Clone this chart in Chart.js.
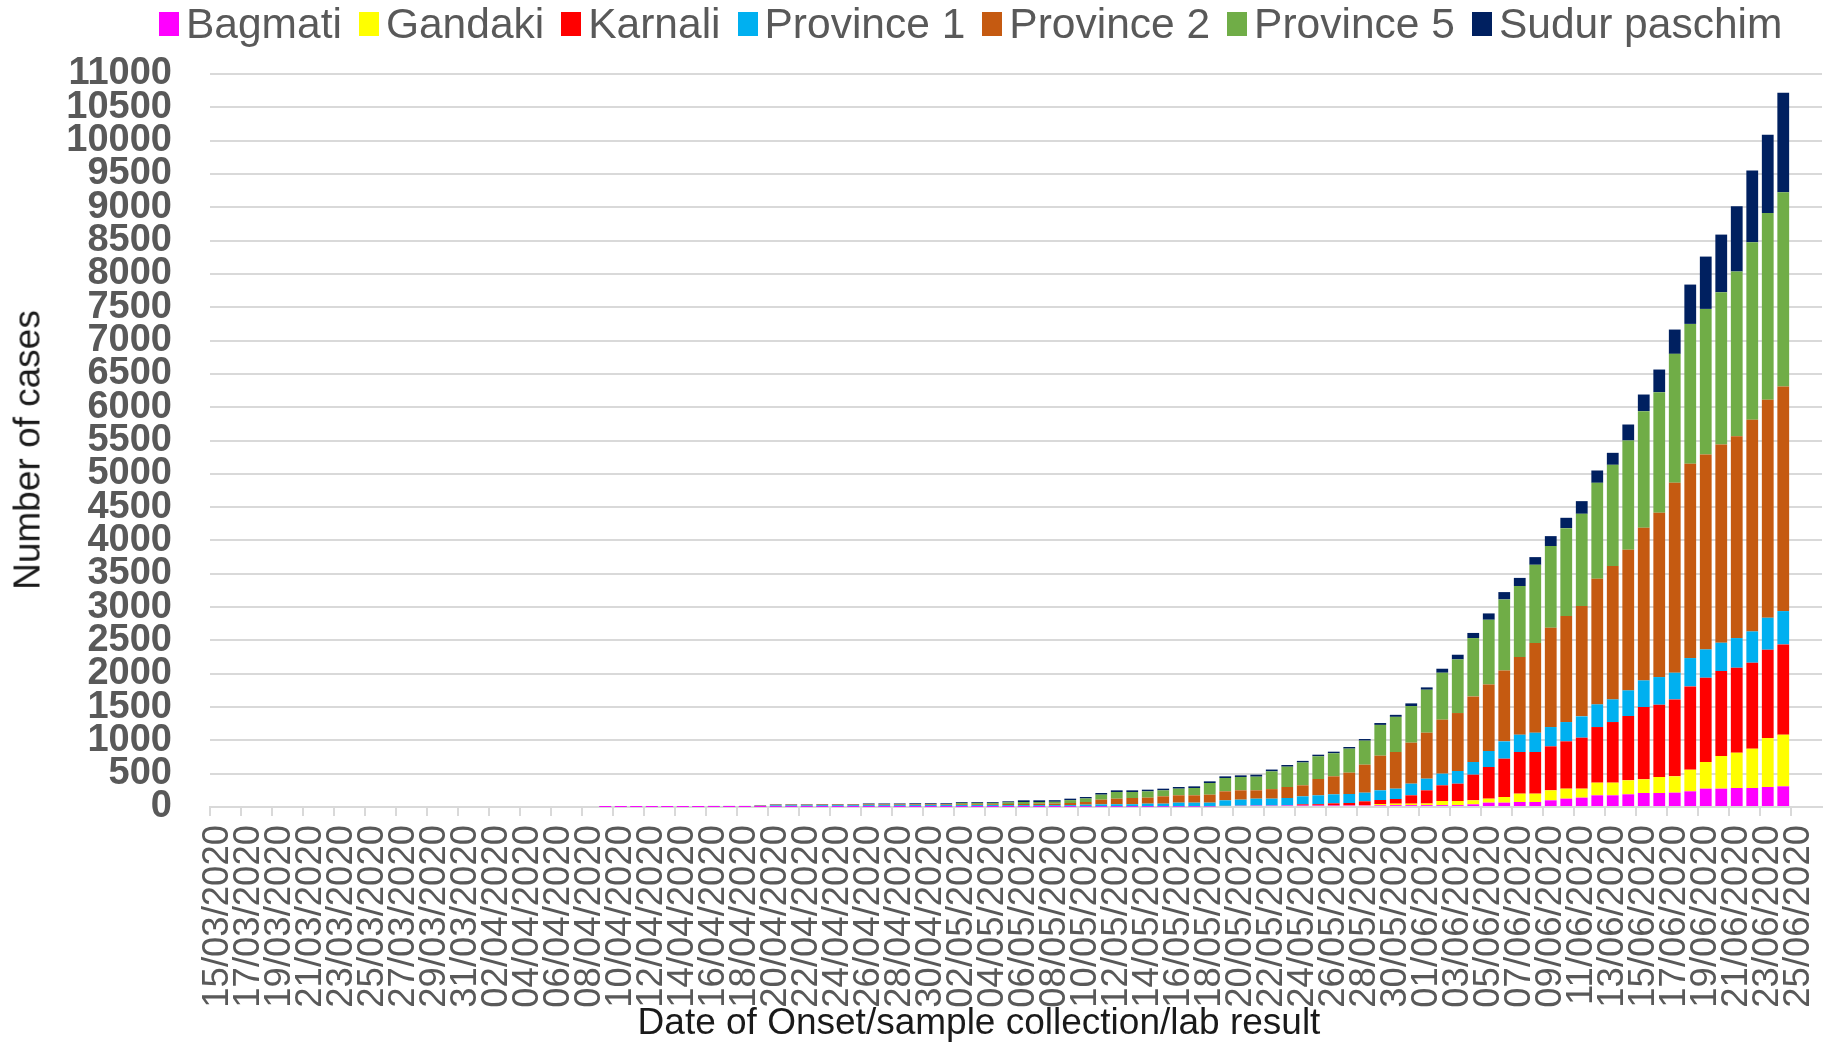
<!DOCTYPE html>
<html>
<head>
<meta charset="utf-8">
<title>Cases by province</title>
<script src="https://cdn.jsdelivr.net/npm/chart.js@4.4.1/dist/chart.umd.min.js"></script>
<style>
  body { margin: 0; background: #fff; }
  #wrap { position: relative; width: 1831px; height: 1042px; font-family: 'Liberation Sans', Arial, sans-serif; }
  #chart { position: absolute; top: 0; left: 0; display: block; }
  #legend { position: absolute; top: 3px; left: 159px; display: flex; font-size: 42.5px; line-height: 42px; color: #595959; white-space: nowrap; }
  #legend .item { display: flex; align-items: center; margin-right: 17px; }
  #legend .box { width: 20px; height: 24px; margin-right: 7px; }
  #xtitle { position: absolute; top: 1003px; left: 979px; transform: translateX(-50%); font-size: 37px; line-height: 37px; color: #1a1a1a; white-space: nowrap; }
  #ytitle { position: absolute; top: 450px; left: 27px; transform: translate(-50%, -50%) rotate(-90deg); font-size: 37px; line-height: 37px; color: #1a1a1a; white-space: nowrap; }
</style>
</head>
<body>
<div id="wrap">
  <canvas id="chart" width="1831" height="1042"></canvas>
  <div id="legend"></div>
  <div id="ytitle">Number of cases</div>
  <div id="xtitle">Date of Onset/sample collection/lab result</div>
</div>
<script>
// one category per day, labels shown every second day
const dates = [
  '15/03/2020','16/03/2020','17/03/2020','18/03/2020','19/03/2020','20/03/2020','21/03/2020','22/03/2020','23/03/2020','24/03/2020',
  '25/03/2020','26/03/2020','27/03/2020','28/03/2020','29/03/2020','30/03/2020','31/03/2020','01/04/2020','02/04/2020','03/04/2020',
  '04/04/2020','05/04/2020','06/04/2020','07/04/2020','08/04/2020','09/04/2020','10/04/2020','11/04/2020','12/04/2020','13/04/2020',
  '14/04/2020','15/04/2020','16/04/2020','17/04/2020','18/04/2020','19/04/2020','20/04/2020','21/04/2020','22/04/2020','23/04/2020',
  '24/04/2020','25/04/2020','26/04/2020','27/04/2020','28/04/2020','29/04/2020','30/04/2020','01/05/2020','02/05/2020','03/05/2020',
  '04/05/2020','05/05/2020','06/05/2020','07/05/2020','08/05/2020','09/05/2020','10/05/2020','11/05/2020','12/05/2020','13/05/2020',
  '14/05/2020','15/05/2020','16/05/2020','17/05/2020','18/05/2020','19/05/2020','20/05/2020','21/05/2020','22/05/2020','23/05/2020',
  '24/05/2020','25/05/2020','26/05/2020','27/05/2020','28/05/2020','29/05/2020','30/05/2020','31/05/2020','01/06/2020','02/06/2020',
  '03/06/2020','04/06/2020','05/06/2020','06/06/2020','07/06/2020','08/06/2020','09/06/2020','10/06/2020','11/06/2020','12/06/2020',
  '13/06/2020','14/06/2020','15/06/2020','16/06/2020','17/06/2020','18/06/2020','19/06/2020','20/06/2020','21/06/2020','22/06/2020',
  '23/06/2020','24/06/2020','25/06/2020','26/06/2020'
];

// cases per province (stack segments), same order as dates
const bagmati = [
  0,0,0,0,0,0,0,0,0,0,
  0,0,0,0,0,0,0,0,0,0,
  0,0,0,0,0,1,1,1,1,1,
  1,1,1,1,1,1,2,2,2,2,
  2,2,2,2,2,2,2,2,2,2,
  2,2,2,2,2,3,4,4,4,4,
  4,5,6,6,8,15,18,20,20,22,
  22,22,22,22,22,25,28,28,28,28,
  28,40,65,65,75,75,100,125,140,175,
  175,190,210,210,215,235,275,275,285,285,
  300,310,0,0
];
const gandaki = [
  0,0,0,0,0,0,0,0,0,0,
  0,0,0,0,0,0,0,0,0,0,
  0,0,0,0,0,0,0,0,0,0,
  0,0,1,1,1,1,1,1,1,1,
  1,1,1,1,1,1,1,1,1,1,
  1,1,1,1,1,1,1,1,1,1,
  1,1,1,1,1,1,1,1,1,1,
  1,1,1,3,6,20,22,22,24,62,
  62,60,60,85,125,125,150,150,135,190,
  190,210,205,240,245,325,400,490,530,590,
  735,775,0,0
];
const karnali = [
  0,0,0,0,0,0,0,0,0,0,
  0,0,0,0,0,0,0,0,0,0,
  0,0,0,0,0,0,0,0,0,0,
  0,0,0,0,0,0,0,0,0,0,
  0,0,1,1,1,1,1,1,1,1,
  1,1,1,1,1,1,1,1,1,1,
  1,1,1,1,1,1,1,1,1,2,
  17,19,32,35,57,60,70,125,198,235,
  260,385,475,575,625,625,660,710,765,835,
  910,965,1085,1085,1155,1250,1265,1275,1275,1290,
  1325,1355,0,0
];
const province1 = [
  0,0,0,0,0,0,0,0,0,0,
  0,0,0,0,0,0,0,0,0,0,
  0,0,0,0,0,2,2,2,3,3,
  3,4,5,5,5,5,22,22,22,24,
  24,24,24,24,24,25,25,25,25,25,
  25,24,24,24,24,23,29,34,36,36,
  44,43,57,57,55,83,90,103,103,110,
  120,133,135,135,130,145,155,175,175,175,
  190,190,240,260,260,290,290,290,320,340,
  340,385,400,415,400,425,425,425,445,470,
  480,500,0,0
];
const province2 = [
  0,0,0,0,0,0,0,0,0,0,
  0,0,0,0,0,0,0,0,0,0,
  0,0,0,0,0,1,1,1,1,2,
  2,2,2,2,2,10,10,10,10,10,
  10,10,10,10,10,10,10,10,12,12,
  12,17,17,22,22,32,40,70,83,93,
  90,110,110,110,120,135,140,125,143,165,
  165,245,270,320,420,520,550,615,690,810,
  870,985,1000,1065,1165,1345,1490,1590,1655,1885,
  2000,2110,2290,2465,2850,2915,2925,2975,3030,3175,
  3270,3370,0,0
];
const province5 = [
  0,0,0,0,0,0,0,0,0,0,
  0,0,0,0,0,0,0,0,0,0,
  0,0,0,0,0,0,0,0,1,1,
  1,1,1,1,1,1,1,1,1,1,
  1,1,3,3,3,4,4,4,18,18,
  18,23,30,25,28,43,53,75,100,90,
  95,90,100,110,175,200,200,205,267,305,
  343,341,346,361,361,462,528,550,645,705,
  805,875,970,1065,1065,1175,1225,1320,1385,1440,
  1520,1640,1750,1810,1935,2100,2185,2285,2470,2665,
  2805,2915,0,0
];
const sudurPaschim = [
  0,0,0,0,0,0,0,0,0,0,
  0,0,0,0,0,0,0,0,0,0,
  0,0,0,0,0,5,5,5,5,5,
  5,6,6,6,6,6,6,6,6,6,
  6,6,12,12,12,13,13,13,13,13,
  13,17,25,25,24,22,22,25,25,25,
  25,25,25,25,25,25,25,30,27,25,
  24,24,24,24,24,28,30,40,35,60,
  70,77,95,110,123,115,150,155,190,185,
  180,240,250,340,365,590,785,865,980,1075,
  1175,1495,0,0
];

const provinces = [
  { label: 'Bagmati', data: bagmati, color: '#FF00FF' },
  { label: 'Gandaki', data: gandaki, color: '#FFFF00' },
  { label: 'Karnali', data: karnali, color: '#FF0000' },
  { label: 'Province 1', data: province1, color: '#00B0F0' },
  { label: 'Province 2', data: province2, color: '#C55A11' },
  { label: 'Province 5', data: province5, color: '#70AD47' },
  { label: 'Sudur paschim', data: sudurPaschim, color: '#002060' }
];

// legend row on top
const legend = document.getElementById('legend');
provinces.forEach(p => {
  const item = document.createElement('div');
  item.className = 'item';
  const box = document.createElement('span');
  box.className = 'box';
  box.style.background = p.color;
  const txt = document.createElement('span');
  txt.textContent = p.label;
  item.appendChild(box);
  item.appendChild(txt);
  legend.appendChild(item);
});

Chart.defaults.font.family = "'Liberation Sans', Arial, sans-serif";

// small tick marks every second day only (plus the closing one)
const tickCol = ctx => (ctx.index % 2 === 0 ? '#d9d9d9' : 'rgba(0,0,0,0)');

new Chart(document.getElementById('chart'), {
  type: 'bar',
  data: {
    labels: dates,
    datasets: provinces.map(p => ({
      label: p.label,
      data: p.data,
      backgroundColor: p.color,
      borderWidth: 0,
      barPercentage: 0.76,
      categoryPercentage: 1
    }))
  },
  options: {
    responsive: false,
    animation: false,
    devicePixelRatio: 1,
    layout: { padding: { top: 74, right: 9, left: 0, bottom: 0 } },
    plugins: {
      legend: { display: false },
      tooltip: { enabled: false }
    },
    scales: {
      x: {
        stacked: true,
        offset: true,
        grid: {
          offset: true,
          drawOnChartArea: false,
          drawTicks: true,
          tickLength: 9,
          lineWidth: 2,
          color: tickCol,
          tickColor: tickCol
        },
        border: { color: '#d9d9d9', width: 2 },
        ticks: {
          autoSkip: false,
          minRotation: 90,
          maxRotation: 90,
          padding: 9,
          color: '#595959',
          font: { size: 36.5 },
          callback: (v, i) => (i % 2 === 0 ? dates[i] : '')
        },
        afterFit: s => { s.height = 235; s.paddingLeft = 0; s.paddingRight = 0; }
      },
      y: {
        stacked: true,
        min: 0,
        max: 11000,
        ticks: {
          stepSize: 500,
          autoSkip: false,
          padding: 38,
          color: '#595959',
          font: { size: 38, weight: 'bold', lineHeight: 1 },
          callback: v => String(v)
        },
        grid: { color: '#d9d9d9', lineWidth: 2, drawTicks: false },
        border: { display: false },
        afterFit: s => { s.width = 210; s.paddingTop = 0; s.paddingBottom = 0; }
      }
    }
  }
});
</script>
</body>
</html>
